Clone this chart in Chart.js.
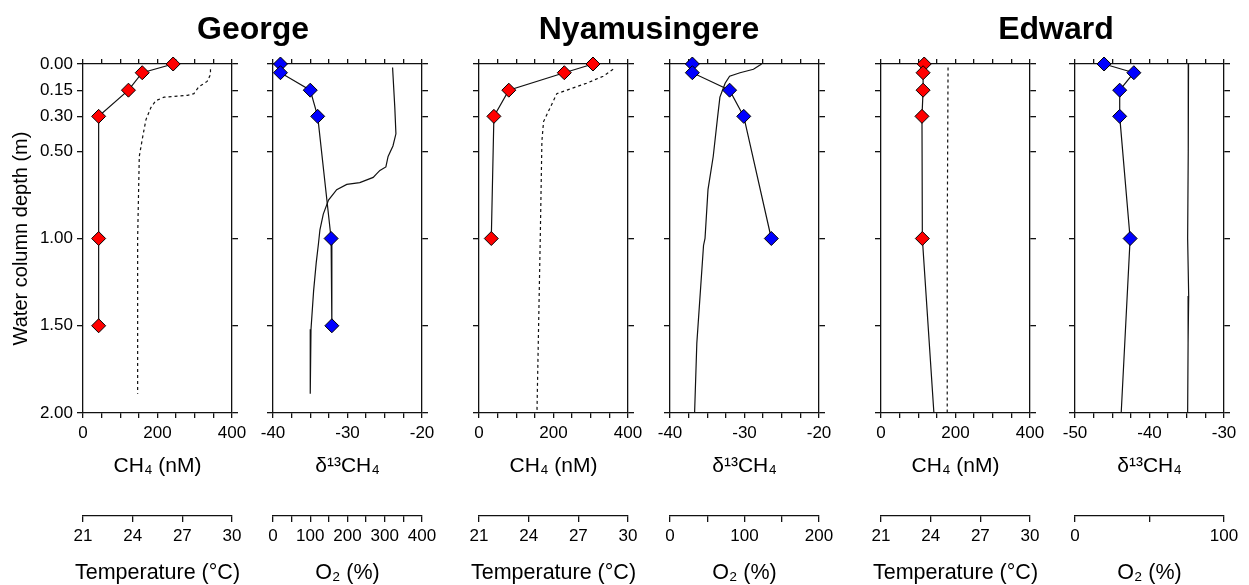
<!DOCTYPE html>
<html>
<head>
<meta charset="utf-8">
<script src="https://cdn.jsdelivr.net/npm/chart.js@4.4.0/dist/chart.umd.min.js"></script>
<style>
  body { margin: 0; background: #fff; }
  #wrap { position: relative; width: 1249px; height: 585px; overflow: hidden; font-family: 'Liberation Sans', Arial, sans-serif; }
  canvas { position: absolute; top: 0; }
  .lake { position: absolute; top: 12px; width: 300px; text-align: center; font-weight: bold; font-size: 32px; line-height: 32px; color: #000; z-index: 2; }
  .sub { position: absolute; top: 560px; text-align: center; font-size: 21.5px; line-height: 24px; color: #000; white-space: nowrap; }
</style>
</head>
<body>
<div id="wrap">
  <div class="lake" style="left:103px">George</div>
  <div class="lake" style="left:499px">Nyamusingere</div>
  <div class="lake" style="left:906px">Edward</div>
  <canvas id="p0"></canvas>
  <canvas id="p1"></canvas>
  <canvas id="p2"></canvas>
  <canvas id="p3"></canvas>
  <canvas id="p4"></canvas>
  <canvas id="p5"></canvas>
</div>
<script>
// depth axis ticks (m)
const depthTicks = [0, 0.15, 0.30, 0.50, 1.00, 1.50, 2.00];

// George
const georgeDepth = [0, 0.05, 0.15, 0.30, 1.00, 1.50];
const georgeCH4 = [242, 159, 122, 42, 42, 42];
const georgeD13C = [-39.0, -39.0, -35.0, -34.0, -32.2, -32.1];
const georgeTempDepth = [0.03, 0.06, 0.10, 0.13, 0.17, 0.18, 0.19, 0.21, 0.25, 0.32, 0.42, 0.53, 1.00, 1.89];
const georgeTemp = [28.7, 28.7, 28.5, 28.0, 27.7, 27.3, 25.9, 25.4, 25.1, 24.8, 24.6, 24.4, 24.3, 24.3];
const georgeO2Depth = [0.02, 0.25, 0.40, 0.47, 0.53, 0.59, 0.61, 0.63, 0.65, 0.68, 0.69, 0.72, 0.78, 0.86, 0.95, 1.03, 1.14, 1.30, 1.52, 1.89];
const georgeO2 = [321, 327, 330, 322, 309, 303, 287, 278, 269, 233, 198, 171, 149, 135, 126, 122, 116, 109, 102, 100];

// Nyamusingere
const nyamDepth = [0, 0.05, 0.15, 0.30, 1.00];
const nyamCH4 = [306, 229, 80, 40, 33];
const nyamD13C = [-37.0, -37.0, -32.0, -30.1, -26.4];
const nyamTempDepth = [0.03, 0.07, 0.11, 0.17, 0.23, 0.33, 0.44, 1.00, 2.00];
const nyamTemp = [29.1, 28.5, 27.5, 25.7, 25.4, 24.9, 24.8, 24.7, 24.5];
const nyamO2Depth = [0, 0.03, 0.05, 0.07, 0.11, 0.19, 0.30, 0.53, 0.72, 1.00, 1.04, 1.60, 2.00];
const nyamO2 = [123, 112, 94, 80, 74, 67, 64, 58, 51, 47, 45, 36, 33];

// Edward (last point at 2.00 m has no marker)
const edwardDepth = [0, 0.05, 0.15, 0.30, 1.00, 2.00];
const edwardCH4 = [116, 113, 113, 110, 111, 142];
const edwardD13C = [-46.1, -42.1, -44.0, -44.0, -42.6, -43.8];
const edwardTempDepth = [0.02, 1.00, 2.00];
const edwardTemp = [25.05, 25.0, 25.0];
const edwardO2Depth = [0, 0.50, 1.00, 1.33, 1.60, 2.00];
const edwardO2 = [76.2, 76.0, 75.6, 76.3, 75.9, 75.6];

// axis ranges [min, max, tick step, label step]
const ch4Axis = [0, 400, 50, 200];
const tempAxis = [21, 30, 3, 3];
const d13cAxisA = [-40, -20, 2.5, 10];
const d13cAxisB = [-50, -30, 2.5, 10];
const o2AxisA = [0, 400, 50, 100];
const o2AxisB = [0, 200, 50, 100];
const o2AxisC = [0, 100, 50, 100];

const panels = [
  { left: 83,   depth: georgeDepth, vals: georgeCH4, fill: '#ff0000', pDepth: georgeTempDepth, pVals: georgeTemp, dash: true,  ax: ch4Axis,   ax2: tempAxis, t1: 'CH₄ (nM)', t2: 'Temperature (°C)' },
  { left: 273,  depth: georgeDepth, vals: georgeD13C, fill: '#0000ff', pDepth: georgeO2Depth, pVals: georgeO2, dash: false, ax: d13cAxisA, ax2: o2AxisA,  t1: 'δ¹³CH₄',   t2: 'O₂ (%)' },
  { left: 479,  depth: nyamDepth,   vals: nyamCH4,   fill: '#ff0000', pDepth: nyamTempDepth,  pVals: nyamTemp,  dash: true,  ax: ch4Axis,   ax2: tempAxis, t1: 'CH₄ (nM)', t2: 'Temperature (°C)' },
  { left: 670,  depth: nyamDepth,   vals: nyamD13C,  fill: '#0000ff', pDepth: nyamO2Depth,    pVals: nyamO2,    dash: false, ax: d13cAxisA, ax2: o2AxisB,  t1: 'δ¹³CH₄',   t2: 'O₂ (%)' },
  { left: 881,  depth: edwardDepth, vals: edwardCH4, fill: '#ff0000', pDepth: edwardTempDepth, pVals: edwardTemp, dash: true, ax: ch4Axis,   ax2: tempAxis, t1: 'CH₄ (nM)', t2: 'Temperature (°C)' },
  { left: 1075, depth: edwardDepth, vals: edwardD13C, fill: '#0000ff', pDepth: edwardO2Depth, pVals: edwardO2, dash: false, ax: d13cAxisB, ax2: o2AxisC,  t1: 'δ¹³CH₄',   t2: 'O₂ (%)' }
];

const plotW = 149;
const ink = '#111';
Chart.defaults.font.family = "'Liberation Sans', Arial, sans-serif";
Chart.defaults.color = '#000';

function lab(step) {
  return v => (Math.abs(v / step - Math.round(v / step)) < 1e-6 ? String(v) : '');
}

function depthAxis(pos, w, show) {
  return {
    type: 'linear', position: pos, min: 0, max: 2, reverse: true,
    afterBuildTicks: s => { s.ticks = depthTicks.map(v => ({ value: v })); },
    afterFit: s => { s.width = w; },
    ticks: { display: show, callback: v => v.toFixed(2), font: { size: 17 }, padding: 4 },
    grid: { drawOnChartArea: false, tickLength: 6, color: ink, lineWidth: 1.3 },
    border: { color: ink, width: 1.3 },
    title: { display: show, text: 'Water column depth (m)', font: { size: 20 }, padding: { top: 9, bottom: 0 } }
  };
}

function valueAxis(pos, a, h, opts) {
  return Object.assign({
    type: 'linear', position: pos, min: a[0], max: a[1],
    afterFit: s => { s.height = h; },
    ticks: { stepSize: a[2], autoSkip: false, maxRotation: 0, callback: lab(a[3]), font: { size: 17 } },
    grid: { drawOnChartArea: false, tickLength: 5, color: ink, lineWidth: 1.3 },
    border: { color: ink, width: 1.3 }
  }, opts);
}

const wrap = document.getElementById('wrap');

panels.forEach((p, i) => {
  const first = i === 0;
  const leftW = first ? 83 : 22;
  const rightW = 22;
  const cv = document.getElementById('p' + i);
  cv.width = leftW + plotW + rightW;
  cv.height = 585;
  cv.style.left = (p.left - leftW) + 'px';

  // title of the lower (temperature / O2) axis, wider than the plot so kept as html text
  const t = document.createElement('div');
  t.className = 'sub';
  t.style.left = (p.left - 40) + 'px';
  t.style.width = (plotW + 80) + 'px';
  t.textContent = p.t2;
  wrap.appendChild(t);

  const top = valueAxis('top', p.ax, 64, {});
  top.ticks = { stepSize: p.ax[2], autoSkip: false, display: false };

  const main = valueAxis('bottom', p.ax, 103, {
    title: { display: true, text: p.t1, font: { size: 21 }, padding: { top: 0, bottom: 37 } }
  });
  main.ticks.padding = 5;

  const sec = valueAxis('bottom', p.ax2, 69, { weight: 1 });
  sec.ticks.padding = 4;
  sec.grid.tickLength = 6;

  new Chart(cv, {
    type: 'scatter',
    data: {
      datasets: [
        {
          data: p.depth.map((d, k) => ({ x: p.vals[k], y: d })),
          xAxisID: 'x', yAxisID: 'y',
          showLine: true, borderColor: ink, borderWidth: 1.2,
          pointStyle: 'rectRot',
          pointRadius: ctx => (ctx.raw && ctx.raw.y >= 2 ? 0 : 7),
          pointBackgroundColor: p.fill, pointBorderColor: '#000', pointBorderWidth: 1,
          clip: false, order: 0
        },
        {
          data: p.pDepth.map((d, k) => ({ x: p.pVals[k], y: d })),
          xAxisID: 'x2', yAxisID: 'y',
          showLine: true, borderColor: ink, borderWidth: 1.2,
          borderDash: p.dash ? [3, 3] : [],
          pointRadius: 0, order: 1
        }
      ]
    },
    options: {
      responsive: false, animation: false, devicePixelRatio: 1,
      layout: { padding: 0 },
      plugins: { legend: { display: false }, tooltip: { enabled: false } },
      scales: {
        y: depthAxis('left', leftW, first),
        yR: depthAxis('right', rightW, false),
        xTop: top,
        x: main,
        x2: sec
      }
    }
  });
});
</script>
</body>
</html>
